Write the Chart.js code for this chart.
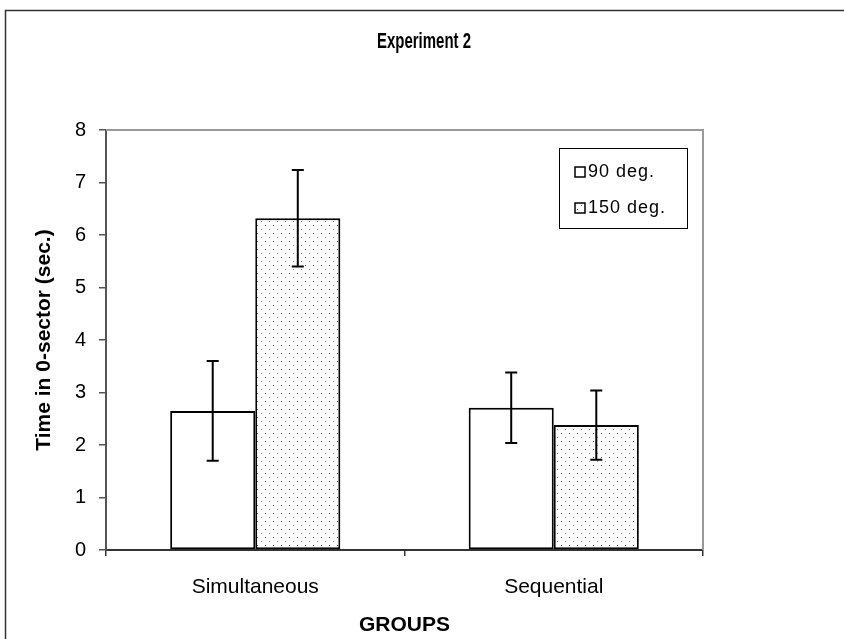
<!DOCTYPE html>
<html>
<head>
<meta charset="utf-8">
<script src="https://cdn.jsdelivr.net/npm/chart.js@4"></script>
<style>
  html, body { margin: 0; padding: 0; background: #fff; }
  #wrap { width: 844px; height: 639px; }
</style>
</head>
<body>
<div id="wrap"><canvas id="chart" width="844" height="639"></canvas></div>
<script>
// Data
const chartTitle = 'Experiment 2';
const groups = ['Simultaneous', 'Sequential'];
const seriesLabels = ['90 deg.', '150 deg.'];
const means90 = [2.65, 2.71];
const means150 = [6.32, 2.38];
const errors90 = [0.95, 0.67];
const errors150 = [0.92, 0.66];
const yTicks = [0, 1, 2, 3, 4, 5, 6, 7, 8];

const FONT = "Arial, 'Liberation Sans', sans-serif";
const ctx = document.getElementById('chart').getContext('2d');

// dotted fill like the old Excel pattern
function dotPattern() {
    const c = document.createElement('canvas');
    c.width = 8; c.height = 8;
    const g = c.getContext('2d');
    g.fillStyle = '#fff';
    g.fillRect(0, 0, 8, 8);
    g.fillStyle = '#444';
    g.fillRect(1, 1, 1, 1);
    g.fillStyle = '#888';
    g.fillRect(5, 5, 1, 1);
    return ctx.createPattern(c, 'repeat');
}

// outer frame, plot border and the (narrow, bold) chart title
const frame = {
    id: 'frame',
    beforeDraw(chart) {
        const c = chart.ctx;
        c.save();
        c.strokeStyle = '#333';
        c.lineWidth = 1.5;
        c.beginPath();
        c.moveTo(5.5, chart.height);
        c.lineTo(5.5, 10.5);
        c.lineTo(chart.width, 10.5);
        c.stroke();
        c.restore();
    },
    beforeDatasetsDraw(chart) {
        const a = chart.chartArea;
        const c = chart.ctx;
        c.save();
        c.strokeStyle = '#999';
        c.lineWidth = 2;
        c.beginPath();
        c.moveTo(a.left, a.top);
        c.lineTo(a.right, a.top);
        c.lineTo(a.right, a.bottom);
        c.stroke();
        c.restore();
    },
    afterDraw(chart, args, o) {
        const c = chart.ctx;
        c.save();
        c.translate(o.titleX, o.titleY);
        c.scale(0.68, 1);
        c.fillStyle = '#000';
        c.font = 'bold 22px ' + FONT;
        c.textAlign = 'center';
        c.textBaseline = 'middle';
        c.fillText(chartTitle, 0, 0);
        c.restore();
    }
};

// error bars
const errorBars = {
    id: 'errorBars',
    afterDatasetsDraw(chart, args, opts) {
        const c = chart.ctx;
        const y = chart.scales.y;
        c.save();
        c.strokeStyle = '#000';
        c.lineWidth = 2;
        chart.data.datasets.forEach((ds, i) => {
            const meta = chart.getDatasetMeta(i);
            meta.data.forEach((bar, j) => {
                const top = y.getPixelForValue(ds.data[j] + ds.errors[j]);
                const bot = y.getPixelForValue(ds.data[j] - ds.errors[j]);
                c.beginPath();
                c.moveTo(bar.x, top); c.lineTo(bar.x, bot);
                c.moveTo(bar.x - opts.cap, top); c.lineTo(bar.x + opts.cap, top);
                c.moveTo(bar.x - opts.cap, bot); c.lineTo(bar.x + opts.cap, bot);
                c.stroke();
            });
        });
        c.restore();
    }
};

// legend box inside the plot
const boxLegend = {
    id: 'boxLegend',
    afterDraw(chart, args, o) {
        const c = chart.ctx;
        c.save();
        c.fillStyle = '#fff';
        c.fillRect(o.x, o.y, o.w, o.h);
        c.strokeStyle = '#000';
        c.lineWidth = 1;
        c.strokeRect(o.x + 0.5, o.y + 0.5, o.w, o.h);
        chart.data.datasets.forEach((ds, i) => {
            const cy = o.y + o.first + i * o.gap;
            c.fillStyle = ds.backgroundColor;
            c.fillRect(o.x + 16, cy - 5, 10, 10);
            c.lineWidth = 1.5;
            c.strokeRect(o.x + 16, cy - 5, 10, 10);
            c.fillStyle = '#000';
            c.font = '18px ' + FONT;
            c.letterSpacing = '1px';
            c.textBaseline = 'middle';
            c.textAlign = 'left';
            c.fillText(ds.label, o.x + 29, cy);
        });
        c.restore();
    }
};

const chart = new Chart(ctx, {
    type: 'bar',
    data: {
        labels: groups,
        datasets: [{
            label: seriesLabels[0],
            data: means90,
            errors: errors90,
            backgroundColor: '#ffffff',
            borderColor: '#000',
            borderWidth: 2,
            borderSkipped: false
        }, {
            label: seriesLabels[1],
            data: means150,
            errors: errors150,
            backgroundColor: dotPattern(),
            borderColor: '#000',
            borderWidth: 2,
            borderSkipped: false
        }]
    },
    options: {
        responsive: false,
        animation: false,
        layout: { padding: { top: 130, right: 141, left: 0, bottom: 0 } },
        datasets: {
            bar: { barPercentage: 1, categoryPercentage: 0.57 }
        },
        scales: {
            x: {
                afterFit: s => { s.height = 89; },
                grid: { drawOnChartArea: false, tickLength: 6, color: '#333', lineWidth: 1.5 },
                border: { color: '#333', width: 2 },
                ticks: { color: '#000', padding: 19, font: { family: FONT, size: 21 } },
                title: {
                    display: true, text: 'GROUPS', color: '#000',
                    font: { family: FONT, size: 21, weight: 'bold' },
                    padding: { top: 0, bottom: 1 }
                }
            },
            y: {
                min: 0, max: 8,
                afterFit: s => { s.width = 106; },
                afterBuildTicks: s => { s.ticks = yTicks.map(v => ({ value: v })); },
                grid: { drawOnChartArea: false, tickLength: 7, color: '#555', lineWidth: 1.5 },
                border: { color: '#555', width: 2 },
                ticks: { color: '#000', padding: 13, font: { family: FONT, size: 20 } },
                title: {
                    display: true, text: 'Time in 0-sector (sec.)', color: '#000',
                    font: { family: FONT, size: 21, weight: 'bold' },
                    padding: { top: 32, bottom: 0 }
                }
            }
        },
        plugins: {
            legend: { display: false },
            tooltip: { enabled: false },
            title: { display: false },
            frame: { titleX: 424, titleY: 42 },
            errorBars: { cap: 6 },
            boxLegend: { x: 559, y: 148, w: 128, h: 80, first: 24, gap: 36 }
        }
    },
    plugins: [frame, errorBars, boxLegend]
});
</script>
</body>
</html>
